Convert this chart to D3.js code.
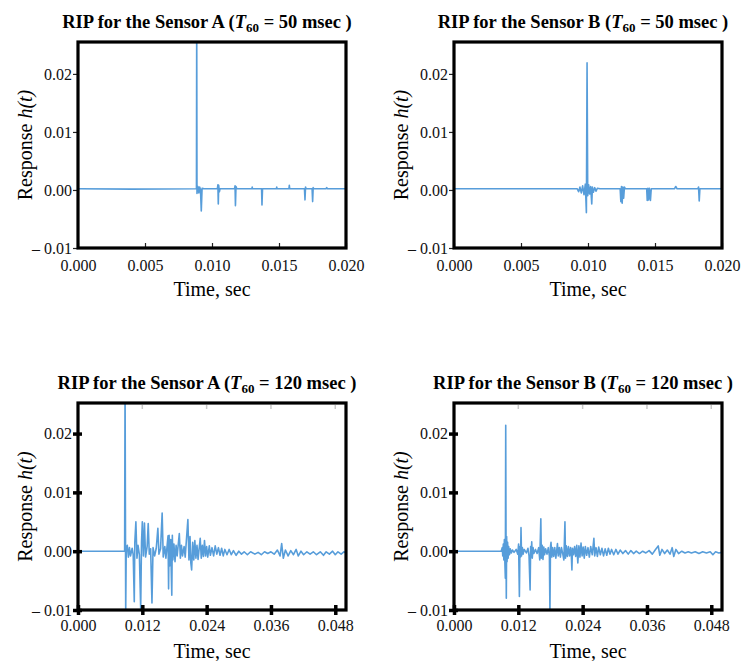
<!DOCTYPE html>
<html>
<head>
<meta charset="utf-8">
<script src="https://cdn.jsdelivr.net/npm/d3@7"></script>
<style>
body { margin: 0; background: #fff; }
svg text { font-family: "Liberation Serif", "Times New Roman", serif !important; }
</style>
</head>
<body>
<div class="container"></div>
<script>
// time in ms, response in units of 1e-3
const sensorA50 = [
    [0, 0.2], [4, 0.15], [8.8, 0.2], [8.84, 0.2], [8.86, 30], [8.88, -0.6], [8.95, 0.6], [9.02, -0.5],
    [9.08, 0.5], [9.14, 0.1], [9.2, -3.6], [9.26, 0.3], [9.4, 0.2],
    [10.4, 0.2], [10.44, 0.9], [10.47, -2.4], [10.5, 0.8], [10.55, -0.3], [10.6, 0.2],
    [11.68, 0.2], [11.72, 0.7], [11.75, -2.7], [11.79, 0.6], [11.85, 0.2],
    [12.97, 0.2], [13.0, 0.5], [13.03, 0.2],
    [13.7, 0.2], [13.73, -2.6], [13.77, 0.2],
    [14.8, 0.2], [14.83, 0.5], [14.86, 0.2],
    [15.74, 0.2], [15.77, 0.8], [15.8, 0.2],
    [16.9, 0.2], [16.94, -1.7], [16.98, 0.5], [17.02, 0.2],
    [17.47, 0.2], [17.51, -2.0], [17.55, 0.4], [17.6, 0.2],
    [18.5, 0.2], [18.56, 0.4], [18.62, 0.2], [20, 0.2]
];

const sensorB50 = [
    [0, 0.2], [9.2, 0.2], [9.3, -0.3], [9.4, 0.5], [9.5, -0.5], [9.6, 0.7], [9.7, -0.8], [9.8, 1.0],
    [9.88, -3.9], [9.93, 21.9], [9.98, -1.0], [10.05, 0.9], [10.12, -0.7], [10.2, 0.6], [10.28, -2.4],
    [10.33, 0.5], [10.4, -0.4], [10.5, 0.4], [10.6, -0.2], [10.7, 0.3], [10.9, 0.2],
    [12.4, 0.2], [12.45, -2.0], [12.5, 0.6], [12.55, -2.3], [12.6, 0.5], [12.66, -1.4], [12.72, 0.5], [12.8, 0.2],
    [14.38, 0.2], [14.42, -1.8], [14.47, 0.3], [14.52, -1.7], [14.58, 0.3], [14.66, -1.8], [14.72, 0.2],
    [16.45, 0.2], [16.55, 0.6], [16.65, 0.2],
    [18.2, 0.2], [18.25, 0.5], [18.3, -1.9], [18.35, 0.2], [20, 0.2]
];

const sensorA120 = [
    [0, 0], [8.7, 0], [8.78, 30], [8.9, -10.5], [9.0, 0.4], [9.2, 1.0], [9.4, -1.0], [9.6, 0.6], [9.8, -0.8],
    [10.1, 0.5], [10.3, -0.6], [10.5, -8.6], [10.6, 1.5], [10.8, 5.0], [11.0, -1.2], [11.2, 1.0], [11.45, -0.6],
    [11.7, -9.8], [11.85, 1.5], [12.0, 5.0], [12.2, -0.8], [12.4, 4.8], [12.6, -1.0], [12.9, 0.8],
    [13.1, 4.7], [13.3, -0.5], [13.55, 0.4], [13.8, -8.8], [14.0, 0.6], [14.3, -0.8], [14.6, 0.5],
    [14.9, 3.9], [15.1, -0.5], [15.4, 0.4], [15.7, 6.5], [15.9, -1.0], [16.2, 0.8], [16.4, -1.2],
    [16.8, 2.6], [16.9, -6.4], [17.0, 2.7], [17.1, -2.5], [17.3, 2.0], [17.4, -3.5], [17.5, -7.5],
    [17.6, 2.7], [17.7, -1.5], [17.9, 1.2], [18.1, -1.8], [18.3, 1.0], [18.5, -0.8],
    [18.9, 3.0], [19.1, -1.2], [19.3, 1.0], [19.5, -0.8], [19.8, 0.8], [20.0, -1.0],
    [20.5, 5.4], [20.7, -1.5], [20.9, 2.5], [21.05, -2.0], [21.2, -3.2], [21.4, 1.5], [21.6, -1.5],
    [21.8, 1.8], [22.0, -1.2], [22.2, 1.0], [22.4, -1.4], [22.8, 2.2], [23.0, -1.2], [23.2, 1.0],
    [23.4, -0.9], [23.6, 1.8], [23.8, -0.8], [24.0, 0.8], [24.2, -1.0], [24.5, 0.9], [24.7, -0.7],
    [25.0, 0.6], [25.3, -0.8], [25.6, 0.9], [25.9, -0.5], [26.2, 0.6], [26.5, -0.7], [26.8, 0.5],
    [27.1, -0.8], [27.4, 0.3], [27.8, -0.6], [28.2, 0.3], [28.6, -0.6], [29.0, 0.1], [29.5, -0.7],
    [30.0, 0.0], [30.5, -0.5], [31.0, -0.1], [31.6, -0.6], [32.2, -0.1], [33.0, -0.5], [33.6, -0.2],
    [34.2, -0.6], [34.8, -0.1], [35.4, -0.4], [36.0, -0.1], [36.6, -0.5], [37.2, 0.2], [37.7, -0.8],
    [38.0, 1.3], [38.3, -1.2], [38.7, 0.2], [39.2, -0.8], [39.7, 0.1], [40.2, -0.6], [40.7, 0.3],
    [41.1, -0.8], [41.6, 0.0], [42.1, -0.6], [42.7, -0.1], [43.3, -0.5], [43.9, -0.1], [44.5, -0.6],
    [45.2, -0.1], [45.8, -0.7], [46.3, -0.1], [46.9, -0.5], [47.5, 0.0], [48.0, -0.6], [48.5, -0.1],
    [49.1, -0.5], [49.6, -0.1], [50, -0.3]
];

const sensorB120 = [
    [0, 0], [8.8, 0], [9.0, 0.6], [9.1, -0.8], [9.2, 1.2], [9.3, -1.5], [9.4, 2.0], [9.5, -2.2],
    [9.58, -4.6], [9.65, 21.4], [9.72, -2.0], [9.76, -8.0], [9.82, 2.5], [9.9, -1.8], [10.0, 1.5],
    [10.1, -1.2], [10.2, 0.8], [10.35, -0.6], [10.5, 0.4], [10.7, -0.3], [10.9, 0.2], [11.2, -0.2],
    [11.6, 0.3], [11.9, -0.5], [12.05, 1.2], [12.2, -7.7], [12.3, 0.8], [12.42, -1.0], [12.5, 4.0],
    [12.6, -0.8], [12.75, 0.6], [12.9, -0.5], [13.1, 0.3], [13.5, -0.3], [13.8, 0.5], [14.0, -0.8],
    [14.2, -6.6], [14.3, 0.8], [14.4, -1.0], [14.5, 1.6], [14.6, -1.2], [14.75, 0.6], [14.9, -0.4],
    [15.2, 0.3], [15.5, -0.4], [15.8, 0.6], [16.0, -1.5], [16.2, 5.5], [16.3, -1.2], [16.45, 1.0],
    [16.6, -1.4], [16.75, 0.7], [16.9, -0.6], [17.1, 0.4], [17.35, -0.5], [17.6, 0.6], [17.8, -0.9],
    [17.9, -10.5], [18.0, 0.8], [18.1, 1.5], [18.25, -1.0], [18.4, 0.6], [18.6, -0.9], [18.8, 0.6],
    [19.0, -1.2], [19.3, 1.3], [19.45, -0.8], [19.65, 0.6], [19.85, -1.0], [20.05, 0.6], [20.3, -0.5],
    [20.5, -1.5], [20.7, 5.0], [20.8, -1.2], [20.95, 0.9], [21.15, -0.9], [21.35, 0.8], [21.55, -0.8],
    [21.75, 0.6], [21.9, -1.0], [22.0, -3.2], [22.1, 0.5], [22.3, -0.6], [22.5, 0.8], [22.7, -0.9],
    [22.9, 1.0], [23.1, -2.0], [23.3, 0.9], [23.5, -1.0], [23.7, 1.4], [23.9, -0.8], [24.1, 0.7],
    [24.3, -1.2], [24.5, 0.8], [24.75, -0.7], [25.0, 0.6], [25.25, -1.0], [25.5, 0.8], [25.8, -0.6],
    [26.1, 2.2], [26.25, -0.8], [26.5, 0.6], [26.75, -0.9], [27.0, 0.7], [27.3, -0.6], [27.6, 0.5],
    [27.9, -0.8], [28.2, 0.4], [28.5, -0.7], [28.8, 0.5], [29.1, -0.5], [29.4, 0.3], [29.8, -0.6],
    [30.2, 0.3], [30.6, -0.5], [31.0, 0.2], [31.5, -0.4], [32.0, 0.1], [32.5, -0.5], [33.0, 0.1],
    [33.5, -0.4], [34.0, 0.0], [34.6, -0.4], [35.2, 0.0], [35.8, -0.3], [36.4, 0.1], [37.0, -0.5],
    [37.6, 0.3], [38.1, 0.9], [38.4, -0.7], [38.8, 0.3], [39.3, -0.4], [39.8, 0.2], [40.3, -0.5],
    [40.7, 0.6], [41.0, -0.9], [41.4, 0.3], [41.9, -0.4], [42.5, 0.0], [43.1, -0.3], [43.7, -0.1],
    [44.3, -0.3], [45.0, -0.1], [45.7, -0.4], [46.4, -0.1], [47.1, -0.3], [47.8, -0.1], [48.3, -0.6],
    [48.8, -0.1], [49.4, -0.3], [50, -0.2]
];

const sensors = ['A', 'B', 'A', 'B'];
const t60Labels = ['50', '50', '120', '120'];
const xTicksShort = [0, 5, 10, 15, 20];
const xTicksLong = [0, 12, 24, 36, 48];
const yTicks = [-10, 0, 10, 20];
const yTickLabels = ['\u2013 0.01', '0.00', '0.01', '0.02'];

const WIDTH = 744;
const HEIGHT = 661;
const PW = 268;
const SERIF = '"Liberation Serif", "Times New Roman", serif';

const panels = [
    { data: sensorA50, xMax: 20, xTicks: xTicksShort, yTop: 25.5, left: 78, top: 42, h: 206, bold: false },
    { data: sensorB50, xMax: 20, xTicks: xTicksShort, yTop: 25.5, left: 454, top: 42, h: 206, bold: false },
    { data: sensorA120, xMax: 50, xTicks: xTicksLong, yTop: 25.2, left: 78, top: 403, h: 207, bold: true },
    { data: sensorB120, xMax: 50, xTicks: xTicksLong, yTop: 25.2, left: 454, top: 403, h: 207, bold: true }
];

var svg = d3.select('.container').append('svg')
    .attr('width', WIDTH)
    .attr('height', HEIGHT)
    .style('font-family', SERIF);

panels.forEach(function (p, i) {
    var xScale = d3.scaleLinear().domain([0, p.xMax]).range([0, PW]);
    var yScale = d3.scaleLinear().domain([-10, p.yTop]).range([p.h, 0]);

    var g = svg.append('g').attr('transform', `translate(${p.left}, ${p.top})`);

    g.append('clipPath').attr('id', 'clip' + i)
        .append('rect').attr('width', PW).attr('height', p.h);

    var line = d3.line()
        .x(d => xScale(d[0]))
        .y(d => yScale(d[1]));

    g.append('path')
        .datum(p.data)
        .attr('clip-path', `url(#clip${i})`)
        .attr('fill', 'none')
        .attr('stroke', '#3a8cd4')
        .attr('stroke-opacity', 0.85)
        .attr('stroke-width', 1.6)
        .attr('stroke-linejoin', 'round')
        .attr('d', line);

    var xAxis = d3.axisBottom(xScale)
        .tickValues(p.xTicks)
        .tickFormat(d => (d / 1000).toFixed(3));
    var yAxis = d3.axisLeft(yScale)
        .tickValues(yTicks)
        .tickFormat((d, k) => yTickLabels[k]);

    var gx = g.append('g').attr('transform', `translate(0, ${p.h})`).call(xAxis);
    var gy = g.append('g').call(yAxis);

    [gx, gy].forEach(function (ax) {
        ax.attr('font-family', null).attr('font-size', null);
        ax.select('.domain').remove();
        ax.selectAll('text')
            .style('font-family', SERIF)
            .style('font-size', '16px')
            .attr('fill', '#111');
    });

    if (p.bold) {
        gx.selectAll('.tick line').attr('y1', -5).attr('y2', 5)
            .attr('stroke', '#000').attr('stroke-width', 3.5);
        gy.selectAll('.tick line').attr('x1', -5).attr('x2', 4)
            .attr('stroke', '#000').attr('stroke-width', 3.5);
        gx.selectAll('text').attr('y', 10);
        // faint ticks along the top edge
        g.selectAll('.topTick').data(p.xTicks.slice(1))
            .enter().append('line')
            .attr('x1', d => xScale(d)).attr('x2', d => xScale(d))
            .attr('y1', 2).attr('y2', 6)
            .attr('stroke', '#c8c8c8').attr('stroke-width', 1.5);
    } else {
        gx.selectAll('.tick line').attr('y1', 0).attr('y2', -5)
            .attr('stroke', '#222').attr('stroke-width', 1.2);
        gy.selectAll('.tick line').attr('x1', -5).attr('x2', 0)
            .attr('stroke', '#222').attr('stroke-width', 1.2);
        gx.selectAll('text').attr('y', 12);
    }
    gy.selectAll('text').attr('x', -6);

    g.append('rect')
        .attr('width', PW).attr('height', p.h)
        .attr('fill', 'none')
        .attr('stroke', '#000')
        .attr('stroke-width', 3.2);

    // x title
    g.append('text')
        .attr('x', PW / 2).attr('y', p.h + 47.5)
        .attr('text-anchor', 'middle')
        .style('font-size', '20px')
        .text('Time, sec');

    // y title
    var yl = g.append('text')
        .attr('transform', `translate(-46, ${p.h / 2}) rotate(-90)`)
        .attr('text-anchor', 'middle')
        .style('font-size', '20px');
    yl.append('tspan').text('Response ');
    yl.append('tspan').attr('font-style', 'italic').text('h(t)');

    // panel title
    var tt = g.append('text')
        .attr('x', PW / 2 - 5).attr('y', -14)
        .attr('text-anchor', 'middle')
        .style('font-size', '18.5px')
        .attr('font-weight', 'bold');
    tt.append('tspan').text(`RIP for the Sensor ${sensors[i]} (`);
    tt.append('tspan').attr('font-style', 'italic').text('T');
    tt.append('tspan').style('font-size', '13px').attr('dy', 4).text('60');
    tt.append('tspan').attr('dy', -4).text(` = ${t60Labels[i]} msec )`);
});
</script>
</body>
</html>
